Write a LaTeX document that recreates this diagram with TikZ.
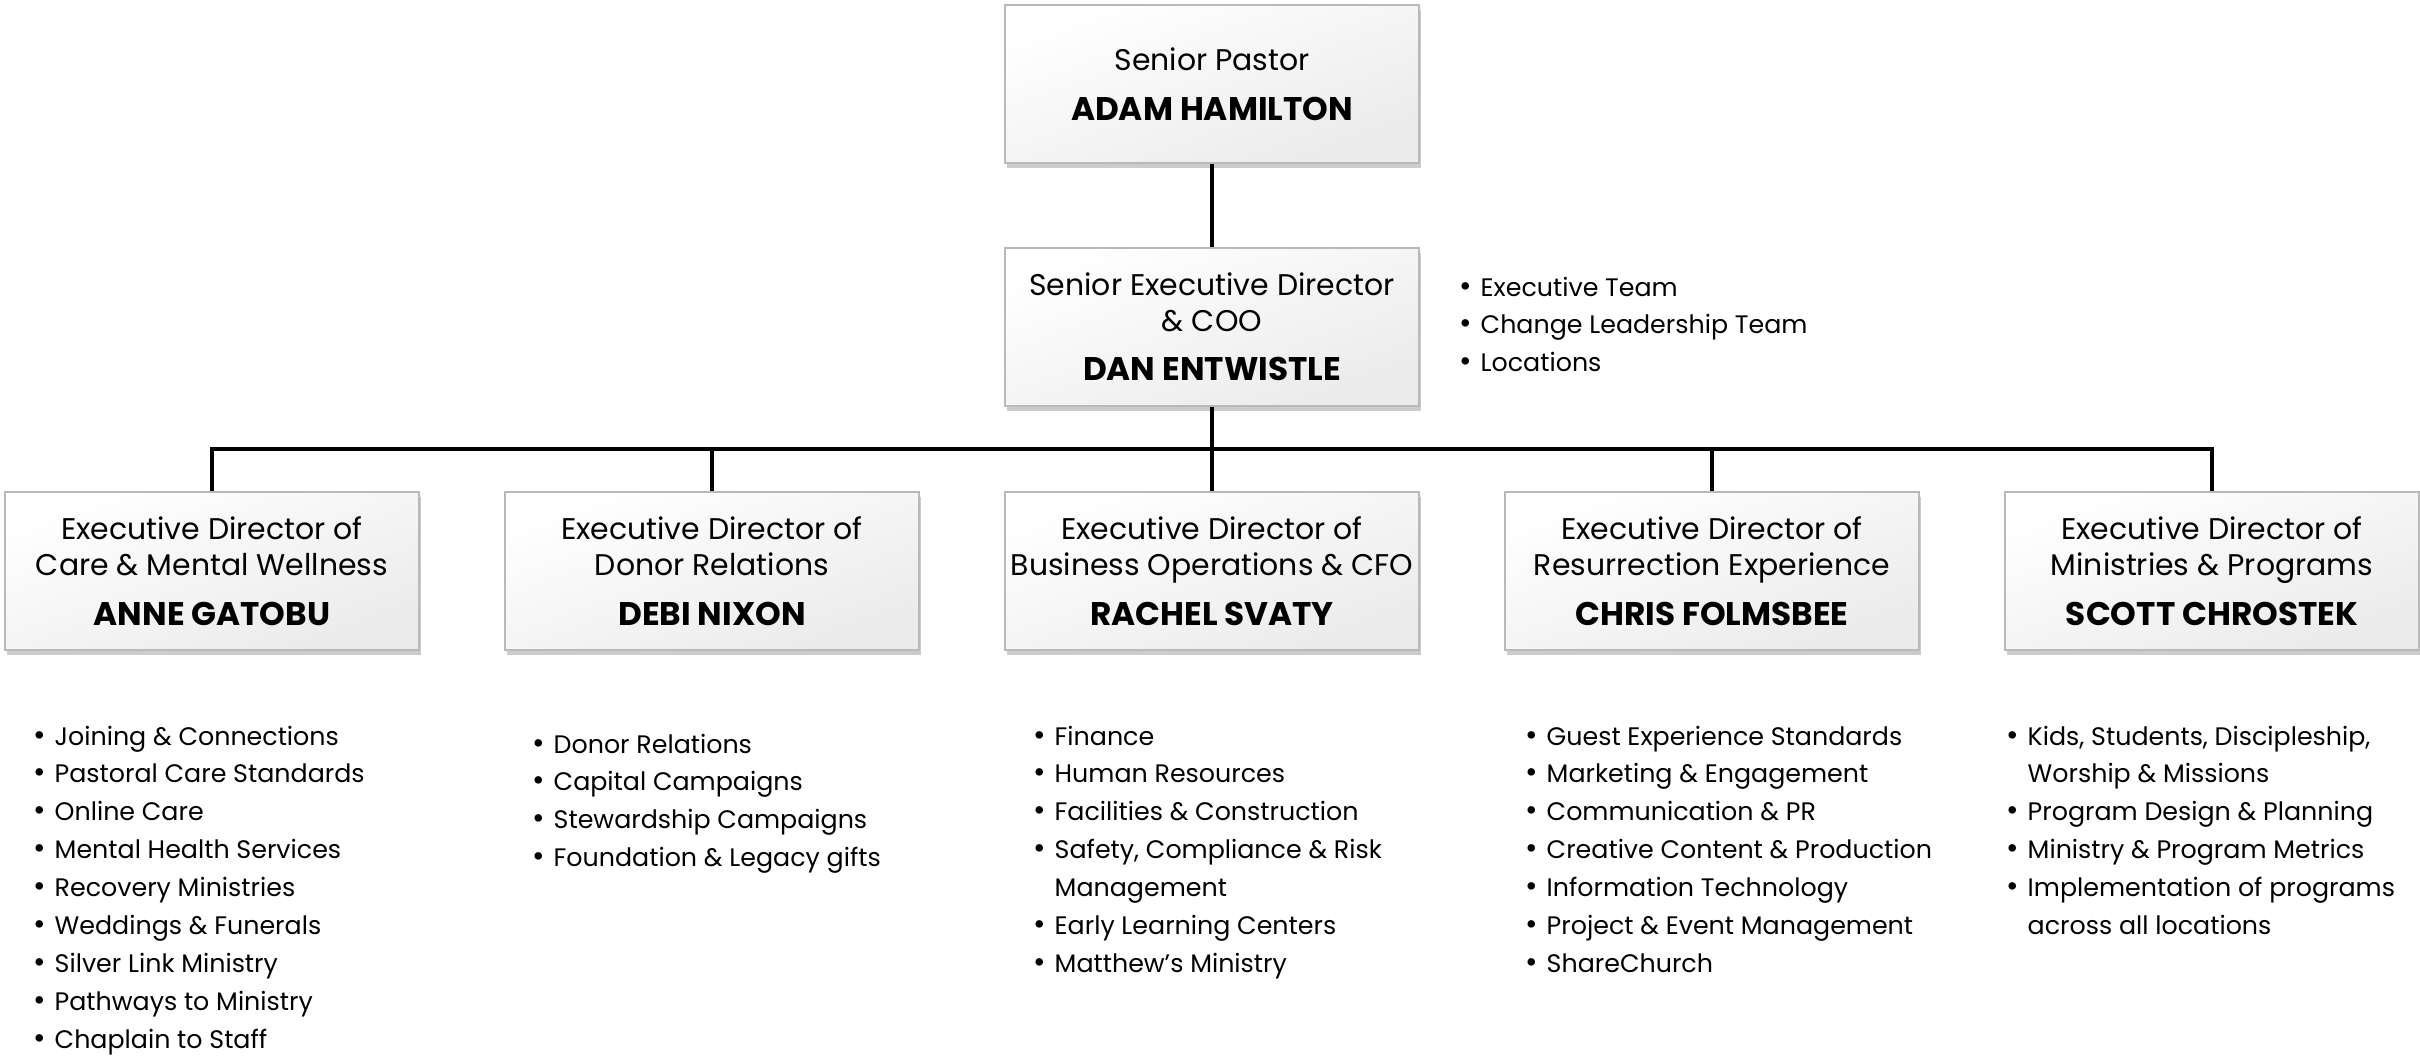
\documentclass[tikz,border=0pt]{standalone}
\usepackage{fontspec}
\setmainfont{Poppins}
\usepackage{tikz}
\usetikzlibrary{calc}
\usetikzlibrary{shadows}
\newcommand{\titlefont}{\fontsize{8.5}{10.25}\selectfont}
\newcommand{\namefont}{\fontsize{9.3}{10.25}\selectfont\bfseries}
\newcommand{\listfont}{\fontsize{7.2}{10.8}\selectfont}
\newcommand{\itemlist}[1]{\begin{tabular}[t]{@{}p{0.21cm}@{}l@{}}#1\end{tabular}}
\newcommand{\bul}{\scalebox{1.2}{\textbullet}}
\tikzset{
    box/.style={draw=gray!55, line width=0.6pt, top color=white, bottom color=gray!16, shading angle=20,
        drop shadow={shadow xshift=0.5pt, shadow yshift=-1.5pt, opacity=0.4},
        minimum width=4.14cm, minimum height=1.58cm, inner sep=0pt, align=center, font=\titlefont},
    link/.style={line width=0.9pt, black},
    list/.style={anchor=base west, inner sep=0pt, font=\listfont}
}
\begin{document}
\begin{tikzpicture}[x=0.01cm, y=-0.01cm]
        \useasboundingbox (0,0) rectangle (2420,1060);
        %TOP
        \node[box] (pastor) at (1212,84) {Senior Pastor\\[4pt]{\namefont ADAM HAMILTON}};
        \node[box] (coo) at (1212,327) {Senior Executive Director\\\& COO\\[3.6pt]{\namefont DAN ENTWISTLE}};
        \coordinate (bus) at (1212,449);
        %DIRECTORS
        \node[box] (care) at (212,571) {Executive Director of\\Care \& Mental Wellness\\[4pt]{\namefont ANNE GATOBU}};
        \node[box] (donor) at (712,571) {Executive Director of\\Donor Relations\\[4pt]{\namefont DEBI NIXON}};
        \node[box] (cfo) at (1212,571) {Executive Director of\\Business Operations \& CFO\\[4pt]{\namefont RACHEL SVATY}};
        \node[box] (resx) at (1712,571) {Executive Director of\\Resurrection Experience\\[4pt]{\namefont CHRIS FOLMSBEE}};
        \node[box] (prog) at (2212,571) {Executive Director of\\Ministries \& Programs\\[4pt]{\namefont SCOTT CHROSTEK}};
        %LINES
        \draw[link] (pastor.south) -- (coo.north);
        \draw[link] (coo.south) -- (bus);
        \draw[link] (care.north) |- (bus) -| (prog.north);
        \foreach \d in {donor,cfo,resx}
            \draw[link] (\d.north) -- (\d.north |- bus);
        %LISTS
        \node[list] (cooitems) at (1459,296) {\itemlist{
            \bul & Executive Team\\
            \bul & Change Leadership Team\\
            \bul & Locations}};
        \node[list] (careitems) at (33,745) {\itemlist{
            \bul & Joining \& Connections\\
            \bul & Pastoral Care Standards\\
            \bul & Online Care\\
            \bul & Mental Health Services\\
            \bul & Recovery Ministries\\
            \bul & Weddings \& Funerals\\
            \bul & Silver Link Ministry\\
            \bul & Pathways to Ministry\\
            \bul & Chaplain to Staff}};
        \node[list] (donoritems) at (532,753) {\itemlist{
            \bul & Donor Relations\\
            \bul & Capital Campaigns\\
            \bul & Stewardship Campaigns\\
            \bul & Foundation \& Legacy gifts}};
        \node[list] (cfoitems) at (1033,745) {\itemlist{
            \bul & Finance\\
            \bul & Human Resources\\
            \bul & Facilities \& Construction\\
            \bul & Safety, Compliance \& Risk\\
                 & Management\\
            \bul & Early Learning Centers\\
            \bul & Matthew’s Ministry}};
        \node[list] (resxitems) at (1525,745) {\itemlist{
            \bul & Guest Experience Standards\\
            \bul & Marketing \& Engagement\\
            \bul & Communication \& PR\\
            \bul & Creative Content \& Production\\
            \bul & Information Technology\\
            \bul & Project \& Event Management\\
            \bul & ShareChurch}};
        \node[list] (progitems) at (2006,745) {\itemlist{
            \bul & Kids, Students, Discipleship,\\
                 & Worship \& Missions\\
            \bul & Program Design \& Planning\\
            \bul & Ministry \& Program Metrics\\
            \bul & Implementation of programs\\
                 & across all locations}};
    \end{tikzpicture}
\end{document}
